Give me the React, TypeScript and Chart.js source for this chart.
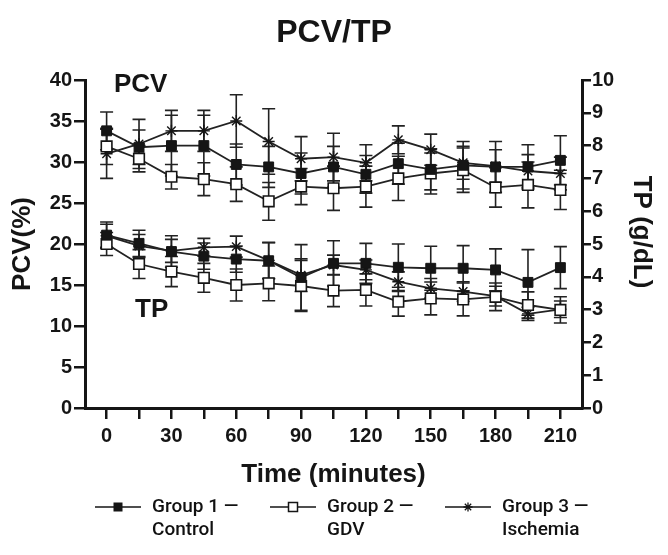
import React, { useEffect, useRef } from 'react';
import { Chart, registerables } from 'chart.js';

Chart.register(...registerables);

// ---- data ----
const minutes = [0, 15, 30, 45, 60, 75, 90, 105, 120, 135, 150, 165, 180, 195, 210];
const xTickLabels = ['0', '30', '60', '90', '120', '150', '180', '210'];

const pcvControl = [33.8, 31.8, 32.0, 32.0, 29.7, 29.4, 28.6, 29.4, 28.5, 29.8, 29.1, 29.6, 29.4, 29.4, 30.2];
const pcvGdv = [31.9, 30.4, 28.2, 27.9, 27.3, 25.2, 27.0, 26.8, 27.0, 28.0, 28.6, 29.0, 26.9, 27.2, 26.6];
const pcvIschemia = [31.0, 32.2, 33.8, 33.8, 35.0, 32.5, 30.4, 30.6, 29.9, 32.7, 31.5, 29.9, 29.5, 28.9, 28.6];

const pcvControlErr = [2.3, 2.1, 3.7, 3.7, 2.5, 2.5, 2.5, 2.5, 2.3, 2.5, 2.5, 2.9, 3.1, 2.7, 3.0];
const pcvGdvErr = [2.2, 1.6, 1.5, 2.0, 2.1, 2.3, 2.2, 2.7, 2.5, 2.7, 2.5, 2.7, 2.4, 2.8, 2.4];
const pcvIschemiaErr = [3.0, 3.0, 2.5, 2.5, 3.2, 4.0, 2.7, 2.9, 2.2, 1.7, 1.9, 2.0, 2.0, 2.0, 2.0];

const tpControl = [5.27, 5.02, 4.77, 4.63, 4.54, 4.49, 3.98, 4.41, 4.41, 4.29, 4.26, 4.26, 4.21, 3.83, 4.28];
const tpGdv = [5.0, 4.39, 4.16, 3.97, 3.75, 3.8, 3.72, 3.58, 3.6, 3.24, 3.34, 3.31, 3.39, 3.14, 2.99];
const tpIschemia = [5.25, 4.94, 4.79, 4.9, 4.92, 4.5, 4.05, 4.36, 4.21, 3.85, 3.65, 3.55, 3.41, 2.87, 3.01];

const tpControlErr = [0.4, 0.4, 0.48, 0.4, 0.4, 0.55, 1.0, 0.69, 0.61, 0.71, 0.67, 0.69, 0.64, 1.0, 0.64];
const tpGdvErr = [0.35, 0.44, 0.46, 0.44, 0.49, 0.53, 0.78, 0.49, 0.49, 0.44, 0.5, 0.5, 0.42, 0.4, 0.4];
const tpIschemiaErr = [0.35, 0.35, 0.35, 0.27, 0.32, 0.55, 0.5, 0.3, 0.3, 0.3, 0.3, 0.3, 0.3, 0.2, 0.25];

const groupNames = ['Group 1 —', 'Group 2 —', 'Group 3 —'];
const groupSubNames = ['Control', 'GDV', 'Ischemia'];

// ---- styles ----
const INK = '#151515';
const FONT = "'Liberation Sans', Arial, Helvetica, sans-serif";
const LEGEND_FONT = "Roboto, 'Liberation Sans', sans-serif";

const markerStyles = [
  { pointStyle: 'rect', pointRadius: 7, pointBackgroundColor: INK, pointBorderColor: INK, pointBorderWidth: 1 },
  { pointStyle: 'rect', pointRadius: 7.5, pointBackgroundColor: '#ffffff', pointBorderColor: INK, pointBorderWidth: 1.6 },
  { pointStyle: 'star', pointRadius: 6, pointBackgroundColor: INK, pointBorderColor: INK, pointBorderWidth: 1.4 },
];

function makeDataset(values: number[], errors: number[], group: number, axis: string) {
  return {
    label: groupNames[group],
    data: minutes.map((m, i) => ({ x: m, y: values[i] })),
    errors,
    yAxisID: axis,
    borderColor: '#222',
    borderWidth: 1.8,
    tension: 0,
    fill: false,
    ...markerStyles[group],
  };
}

const errorBarPlugin = {
  id: 'errorBars',
  beforeDatasetsDraw(chart: any) {
    const { ctx } = chart;
    const xScale = chart.scales.x;
    ctx.save();
    ctx.strokeStyle = '#222';
    ctx.lineWidth = 1.6;
    chart.data.datasets.forEach((ds: any) => {
      const yScale = chart.scales[ds.yAxisID];
      ds.data.forEach((p: any, j: number) => {
        const e = ds.errors[j];
        const x = xScale.getPixelForValue(p.x);
        const yt = yScale.getPixelForValue(p.y + e);
        const yb = yScale.getPixelForValue(p.y - e);
        ctx.beginPath();
        ctx.moveTo(x, yt);
        ctx.lineTo(x, yb);
        ctx.moveTo(x - 6.5, yt);
        ctx.lineTo(x + 6.5, yt);
        ctx.moveTo(x - 6.5, yb);
        ctx.lineTo(x + 6.5, yb);
        ctx.stroke();
      });
    });
    ctx.restore();
  },
};

function drawLegendMarker(ctx: CanvasRenderingContext2D, g: number, x: number, y: number) {
  ctx.save();
  ctx.strokeStyle = INK;
  if (g === 0) {
    ctx.fillStyle = INK;
    ctx.fillRect(x - 4.5, y - 4.5, 9, 9);
  } else if (g === 1) {
    ctx.fillStyle = '#ffffff';
    ctx.lineWidth = 1.5;
    ctx.fillRect(x - 4.5, y - 4.5, 9, 9);
    ctx.strokeRect(x - 4.5, y - 4.5, 9, 9);
  } else {
    ctx.lineWidth = 1.3;
    const r = 4.5;
    ctx.beginPath();
    for (let k = 0; k < 4; k++) {
      const a = (Math.PI / 4) * k;
      ctx.moveTo(x + Math.cos(a) * r, y + Math.sin(a) * r);
      ctx.lineTo(x - Math.cos(a) * r, y - Math.sin(a) * r);
    }
    ctx.stroke();
  }
  ctx.restore();
}

const annotationPlugin = {
  id: 'annotations',
  afterDraw(chart: any) {
    const { ctx, chartArea } = chart;
    ctx.save();
    ctx.fillStyle = INK;
    ctx.font = `bold 26px ${FONT}`;
    ctx.textBaseline = 'middle';
    ctx.textAlign = 'left';
    ctx.fillText('PCV', chartArea.left + 29, chartArea.top + 5);
    ctx.fillText('TP', chartArea.left + 50, chartArea.top + 230);

    // right axis title, reading top to bottom
    ctx.save();
    ctx.translate(641, chartArea.top + 152);
    ctx.rotate(Math.PI / 2);
    ctx.textAlign = 'center';
    ctx.fillText('TP (g/dL)', 0, 0);
    ctx.restore();

    // legend
    const rowY1 = 507;
    const rowY2 = 530;
    const starts = [95, 270, 445];
    ctx.font = `500 19px ${LEGEND_FONT}`;
    starts.forEach((x0, g) => {
      ctx.strokeStyle = INK;
      ctx.lineWidth = 1.6;
      ctx.beginPath();
      ctx.moveTo(x0, rowY1);
      ctx.lineTo(x0 + 46, rowY1);
      ctx.stroke();
      drawLegendMarker(ctx, g, x0 + 23, rowY1);
      ctx.fillStyle = '#111';
      ctx.textAlign = 'left';
      ctx.fillText(groupNames[g], x0 + 57, rowY1);
      ctx.fillText(groupSubNames[g], x0 + 57, rowY2);
    });
    ctx.restore();
  },
};

export default function App() {
  const ref = useRef<HTMLCanvasElement>(null);

  useEffect(() => {
    const canvas = ref.current;
    if (!canvas) return;
    const datasets = [
      makeDataset(pcvControl, pcvControlErr, 0, 'y'),
      makeDataset(pcvGdv, pcvGdvErr, 1, 'y'),
      makeDataset(pcvIschemia, pcvIschemiaErr, 2, 'y'),
      makeDataset(tpControl, tpControlErr, 0, 'y1'),
      makeDataset(tpGdv, tpGdvErr, 1, 'y1'),
      makeDataset(tpIschemia, tpIschemiaErr, 2, 'y1'),
    ];
    const tickFont = { family: FONT, size: 20, weight: 'bold' as const };
    const titleFont = { family: FONT, size: 26, weight: 'bold' as const };
    const chart = new Chart(canvas, {
      type: 'line',
      data: { datasets: datasets as any },
      plugins: [errorBarPlugin, annotationPlugin],
      options: {
        responsive: false,
        animation: false,
        devicePixelRatio: 1,
        layout: { padding: { left: 0, right: 0, top: 0, bottom: 62 } },
        plugins: {
          legend: { display: false },
          tooltip: { enabled: false },
          title: {
            display: true,
            text: 'PCV/TP',
            color: INK,
            font: { family: FONT, size: 32, weight: 'bold' },
            padding: { top: 14, bottom: 27.6 },
          },
        },
        scales: {
          x: {
            type: 'linear',
            min: -10,
            max: 220,
            afterBuildTicks: (scale: any) => {
              scale.ticks = minutes.map((m) => ({ value: m }));
            },
            afterFit: (scale: any) => {
              scale.height = 85;
            },
            ticks: {
              autoSkip: false,
              maxRotation: 0,
              color: INK,
              font: tickFont,
              padding: 5,
              callback: (v: any) => (xTickLabels.includes(String(v)) ? String(v) : ''),
            },
            grid: {
              drawOnChartArea: false,
              drawTicks: true,
              tickLength: 11,
              color: INK,
              lineWidth: 2.5,
            },
            border: { display: true, color: INK, width: 3 },
            title: {
              display: true,
              text: 'Time (minutes)',
              color: INK,
              font: titleFont,
              padding: { top: 0, bottom: 3 },
            },
          },
          y: {
            type: 'linear',
            position: 'left',
            min: 0,
            max: 40,
            afterFit: (scale: any) => {
              scale.width = 85;
            },
            ticks: { stepSize: 5, color: INK, font: tickFont, padding: 2 },
            grid: {
              drawOnChartArea: false,
              drawTicks: true,
              tickLength: 11,
              color: INK,
              lineWidth: 2.5,
            },
            border: { display: true, color: INK, width: 3 },
            title: {
              display: true,
              text: 'PCV(%)',
              color: INK,
              font: titleFont,
              padding: { top: 7, bottom: 0 },
            },
          },
          y1: {
            type: 'linear',
            position: 'right',
            min: 0,
            max: 10,
            afterFit: (scale: any) => {
              scale.width = 86;
            },
            ticks: { stepSize: 1, color: INK, font: tickFont, padding: 1 },
            grid: {
              drawOnChartArea: false,
              drawTicks: true,
              tickLength: 9,
              color: INK,
              lineWidth: 2.5,
            },
            border: { display: true, color: INK, width: 3 },
            title: { display: false },
          },
        },
      },
    });
    return () => chart.destroy();
  }, []);

  return (
    <div style={{ position: 'fixed', left: 0, top: 0, width: 668, height: 555, background: '#ffffff' }}>
      <canvas ref={ref} width={668} height={555} style={{ display: 'block', width: 668, height: 555 }} />
    </div>
  );
}
